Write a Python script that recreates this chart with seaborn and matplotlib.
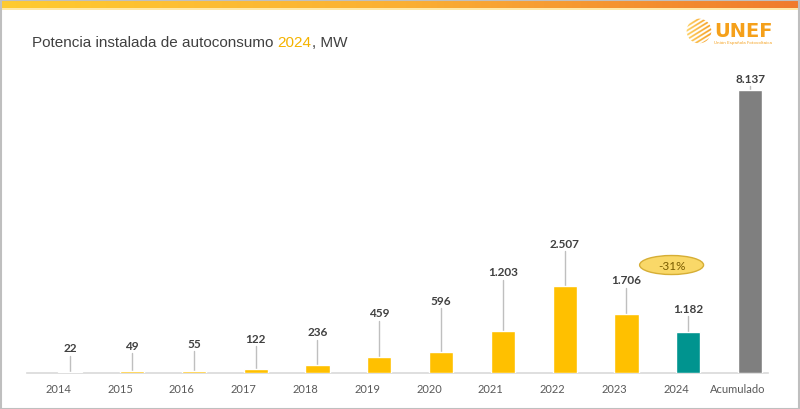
import numpy as np
import pandas as pd
import matplotlib
matplotlib.use("Agg")
from matplotlib import pyplot as plt
import matplotlib.transforms as mtransforms
from matplotlib.patches import Ellipse, Rectangle, Circle
import seaborn as sns

# data
categories = ['2014', '2015', '2016', '2017', '2018', '2019', '2020',
              '2021', '2022', '2023', '2024', 'Acumulado']
values = [22, 49, 55, 122, 236, 459, 596, 1203, 2507, 1706, 1182, 8137]
# where the value labels sit (bottom of text, in MW units)
label_y = [618, 704, 761, 905, 1078, 1624, 1997, 2802, 3635, 2572, 1767, 8376]

sns.set_style('white')
plt.rcParams['font.family'] = ['Lato', 'DejaVu Sans']

yellow = '#FFC000'
teal = '#00948F'
grey = '#7F7F7F'
palette = {c: yellow for c in categories}
palette['2024'] = teal
palette['Acumulado'] = grey

df = pd.DataFrame({'cat': categories, 'mw': values})

fig = plt.figure(figsize=(8, 4.1), dpi=100)
W, H = 800, 410

# axes: baseline at y=374px, scale ~0.0348 px per MW
ymax = 9000
top_px = 374 - ymax * 0.0348
ax = fig.add_axes([27 / W, 1 - 374 / H, (768 - 27) / W, (374 - top_px) / H])
sns.barplot(data=df, x='cat', y='mw', hue='cat', palette=palette,
            width=0.39, legend=False, saturation=1, ax=ax, zorder=3)
ax.set_xlim(-0.70, 11.29)
ax.set_ylim(0, ymax)
ax.set_xlabel('')
ax.set_ylabel('')
ax.set_yticks([])
for s in ['top', 'left', 'right']:
    ax.spines[s].set_visible(False)
ax.spines['bottom'].set_color('#D9D9D9')
ax.spines['bottom'].set_linewidth(1.2)
ax.spines['bottom'].set_zorder(0.5)
ax.tick_params(axis='x', length=0, pad=7, labelsize=8, labelcolor='#595959')

# tick labels sit a bit left of the bars in the original
shift = mtransforms.ScaledTranslation(-12 / 100, 0, fig.dpi_scale_trans)
for lab in ax.get_xticklabels():
    lab.set_transform(lab.get_transform() + shift)

# value labels with leader lines
gap = 140
for i, (v, ly) in enumerate(zip(values, label_y)):
    ax.plot([i, i], [v, ly - gap], color='#BFBFBF', lw=1, zorder=1)
    txt = f"{v:,}".replace(',', '.')
    ax.text(i, ly, txt, ha='center', va='baseline', fontsize=8.5,
            fontweight='bold', color='#404040')

# change 2024 vs 2023
change = round((values[10] - values[9]) / values[9] * 100)
ell = Ellipse((9.73, 3103), 1.035, 546, facecolor='#F9D868',
              edgecolor='#D6AE35', lw=1, zorder=3)
ax.add_patch(ell)
ax.text(9.73, 3103, f"{change}%", ha='center', va='center', fontsize=8.5,
        color='#7A5C00', zorder=4)

# title
t1 = fig.text(32 / W, 1 - 47 / H, 'Potencia instalada de autoconsumo ',
              fontsize=11, color='#404040', family='Liberation Sans')
t2 = ax.annotate('2024', xycoords=t1, xy=(1, 0), va='bottom',
                 fontsize=11, color='#F5B300', family='Liberation Sans',
                 annotation_clip=False)
ax.annotate(', MW', xycoords=t2, xy=(1, 0), va='bottom',
            fontsize=11, color='#404040', family='Liberation Sans',
            annotation_clip=False)

# top gradient bar
bar_ax = fig.add_axes([0, 1 - 9 / H, 1, 9 / H])
grad = np.linspace(0, 1, 256).reshape(1, -1)
cmap = matplotlib.colors.LinearSegmentedColormap.from_list(
    'band', ['#FFCB2F', '#FBB034', '#F07B2C'])
bar_ax.imshow(grad, aspect='auto', cmap=cmap)
bar_ax.axis('off')
fig.add_artist(Rectangle((0, 1 - 10.5 / H), 1, 1.5 / H,
                         transform=fig.transFigure, color='#FFE8A8', lw=0))

# logo
logo_ax = fig.add_axes([686 / W, 1 - 45 / H, 26 / W, 26 / H])
xx, yy = np.meshgrid(np.linspace(-1, 1, 120), np.linspace(-1, 1, 120))
stripes = (np.sin((xx * 0.8 + yy * 1.3) * 14) > 0.1).astype(float)
shade = stripes * (0.55 + 0.45 * (xx + 1) / 2)
logo_cmap = matplotlib.colors.LinearSegmentedColormap.from_list(
    'logo', ['#FFFFFF', '#FFD76A', '#F59B1E'])
im = logo_ax.imshow(shade, cmap=logo_cmap, extent=(-1, 1, -1, 1),
                    vmin=0, vmax=1)
clip = Circle((0, 0), 0.95, transform=logo_ax.transData)
im.set_clip_path(clip)
logo_ax.set_xlim(-1, 1)
logo_ax.set_ylim(-1, 1)
logo_ax.axis('off')
fig.text(714 / W, 1 - 37 / H, 'UNEF', fontsize=14, fontweight='bold',
         color='#F5A01A', family='DejaVu Sans')
fig.text(714 / W, 1 - 44 / H, 'Unión Española Fotovoltaica', fontsize=3,
         color='#F5A01A', family='DejaVu Sans')

# frame
fig.add_artist(Rectangle((0.5 / W, 0.5 / H), 1 - 2 / W, 1 - 1.5 / H,
                         transform=fig.transFigure, fill=False,
                         edgecolor='#BFBFBF', lw=1.5))

plt.savefig('out.png', dpi=100)
